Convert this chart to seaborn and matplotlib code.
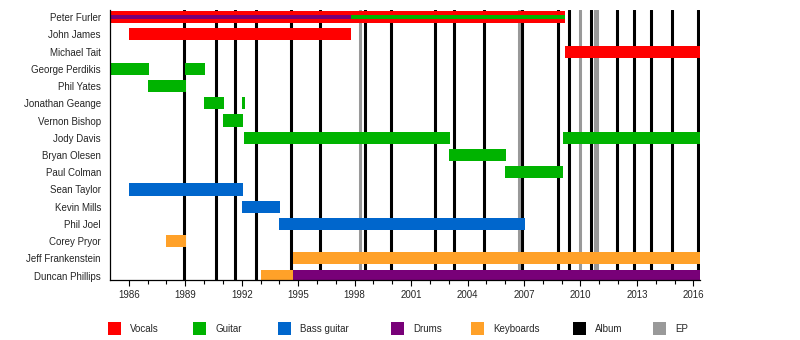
import matplotlib
matplotlib.use("Agg")
import matplotlib.pyplot as plt
from matplotlib.patches import Rectangle
import seaborn as sns
import pandas as pd

# Band members, top to bottom
members = ["Peter Furler", "John James", "Michael Tait", "George Perdikis", "Phil Yates",
           "Jonathan Geange", "Vernon Bishop", "Jody Davis", "Bryan Olesen", "Paul Colman",
           "Sean Taylor", "Kevin Mills", "Phil Joel", "Corey Pryor", "Jeff Frankenstein",
           "Duncan Phillips"]

START, END = 1985.0, 2016.35

# Tenure spans: (member, role, start, end)
span_member = ["Peter Furler", "John James", "Michael Tait",
               "George Perdikis", "George Perdikis", "Phil Yates",
               "Jonathan Geange", "Jonathan Geange", "Vernon Bishop",
               "Jody Davis", "Jody Davis", "Bryan Olesen", "Paul Colman",
               "Sean Taylor", "Kevin Mills", "Phil Joel",
               "Corey Pryor", "Jeff Frankenstein",
               "Duncan Phillips", "Duncan Phillips"]
span_role = ["Vocals", "Vocals", "Vocals",
             "Guitar", "Guitar", "Guitar",
             "Guitar", "Guitar", "Guitar",
             "Guitar", "Guitar", "Guitar", "Guitar",
             "Bass guitar", "Bass guitar", "Bass guitar",
             "Keyboards", "Keyboards",
             "Keyboards", "Drums"]
span_start = [START, 1986.0, 2009.2,
              START, 1989.0, 1987.0,
              1990.0, 1992.0, 1991.0,
              1992.1, 2009.05, 2003.0, 2006.0,
              1986.0, 1992.0, 1994.0,
              1988.0, 1994.75,
              1993.0, 1994.75]
span_end = [2009.2, 1997.8, END,
            1987.05, 1990.05, 1989.05,
            1991.05, 1992.15, 1992.05,
            2003.05, END, 2006.05, 2009.05,
            1992.05, 1994.05, 2007.05,
            1989.05, END,
            1994.75, END]

# Secondary (thin, inner) roles
inner_member = ["Peter Furler", "Peter Furler"]
inner_role = ["Drums", "Guitar"]
inner_start = [START, 1997.8]
inner_end = [1997.8, 2009.2]

# Release dates
album_dates = [1988.92, 1990.62, 1991.63, 1992.74, 1994.60, 1996.14, 1998.53, 1999.91,
               2002.25, 2003.26, 2004.85, 2006.87, 2008.78, 2009.37, 2010.54, 2011.92,
               2012.82, 2013.72, 2014.84, 2016.22]
ep_dates = [1998.27, 2006.71, 2010.00, 2010.75, 2010.87]

legend_labels = ["Vocals", "Guitar", "Bass guitar", "Drums", "Keyboards", "Album", "EP"]
legend_colors = ["#FF0000", "#00B300", "#0066CC", "#780078", "#FFA129", "#000000", "#999999"]
role_color = dict(zip(legend_labels, legend_colors))

year_ticks = [1986, 1989, 1992, 1995, 1998, 2001, 2004, 2007, 2010, 2013, 2016]

sns.set_style("white")
plt.rcParams["font.family"] = ["Liberation Sans", "DejaVu Sans"]

spans = pd.DataFrame({"member": span_member, "role": span_role,
                      "start": span_start, "end": span_end})
inner = pd.DataFrame({"member": inner_member, "role": inner_role,
                      "start": inner_start, "end": inner_end})
row = {m: i for i, m in enumerate(members)}

fig = plt.figure(figsize=(8, 3.4), dpi=100)
ax = fig.add_axes([110 / 800, 60 / 340, 590 / 800, 270 / 340])

# Release markers behind the bars
for d in album_dates:
    ax.axvline(d, color=role_color["Album"], lw=2.2, zorder=1)
for d in ep_dates:
    ax.axvline(d, color=role_color["EP"], lw=2.2, zorder=1)

bar_h = 0.70
for _, r in spans.iterrows():
    ax.barh(row[r["member"]], r["end"] - r["start"], left=r["start"], height=bar_h,
            color=role_color[r["role"]], linewidth=0, zorder=2)
for _, r in inner.iterrows():
    ax.barh(row[r["member"]], r["end"] - r["start"], left=r["start"], height=0.24,
            color=role_color[r["role"]], linewidth=0, zorder=3)

ax.set_xlim(START, END)
ax.set_ylim(15.25, -0.41)
ax.set_yticks(range(len(members)))
ax.set_yticklabels(members, fontsize=7)
ax.tick_params(axis="y", length=0, pad=6.5)
ax.set_xticks(year_ticks)
ax.set_xticklabels([str(y) for y in year_ticks], fontsize=7)
ax.set_xticks(range(1986, 2017), minor=True)
ax.tick_params(axis="x", which="major", length=4.5, width=0.8, pad=2.5, direction="out",
               bottom=True, color="black")
ax.tick_params(axis="x", which="minor", length=2.8, width=0.8, direction="out",
               bottom=True, color="black")
for side in ["top", "right"]:
    ax.spines[side].set_visible(False)
for side in ["left", "bottom"]:
    ax.spines[side].set_color("black")
    ax.spines[side].set_linewidth(0.9)
    ax.spines[side].set_zorder(5)
ax.grid(False)

# Legend row along the bottom
legend_x = [108, 193, 278, 391, 471, 573, 653]
for x, lab, col in zip(legend_x, legend_labels, legend_colors):
    fig.patches.append(Rectangle((x / 800, (340 - 335) / 340), 13 / 800, 13 / 340,
                                 transform=fig.transFigure, facecolor=col,
                                 edgecolor="none"))
    fig.text((x + 22) / 800, (340 - 329) / 340, lab, fontsize=7, va="center", ha="left")

fig.savefig("out.png", dpi=100)
